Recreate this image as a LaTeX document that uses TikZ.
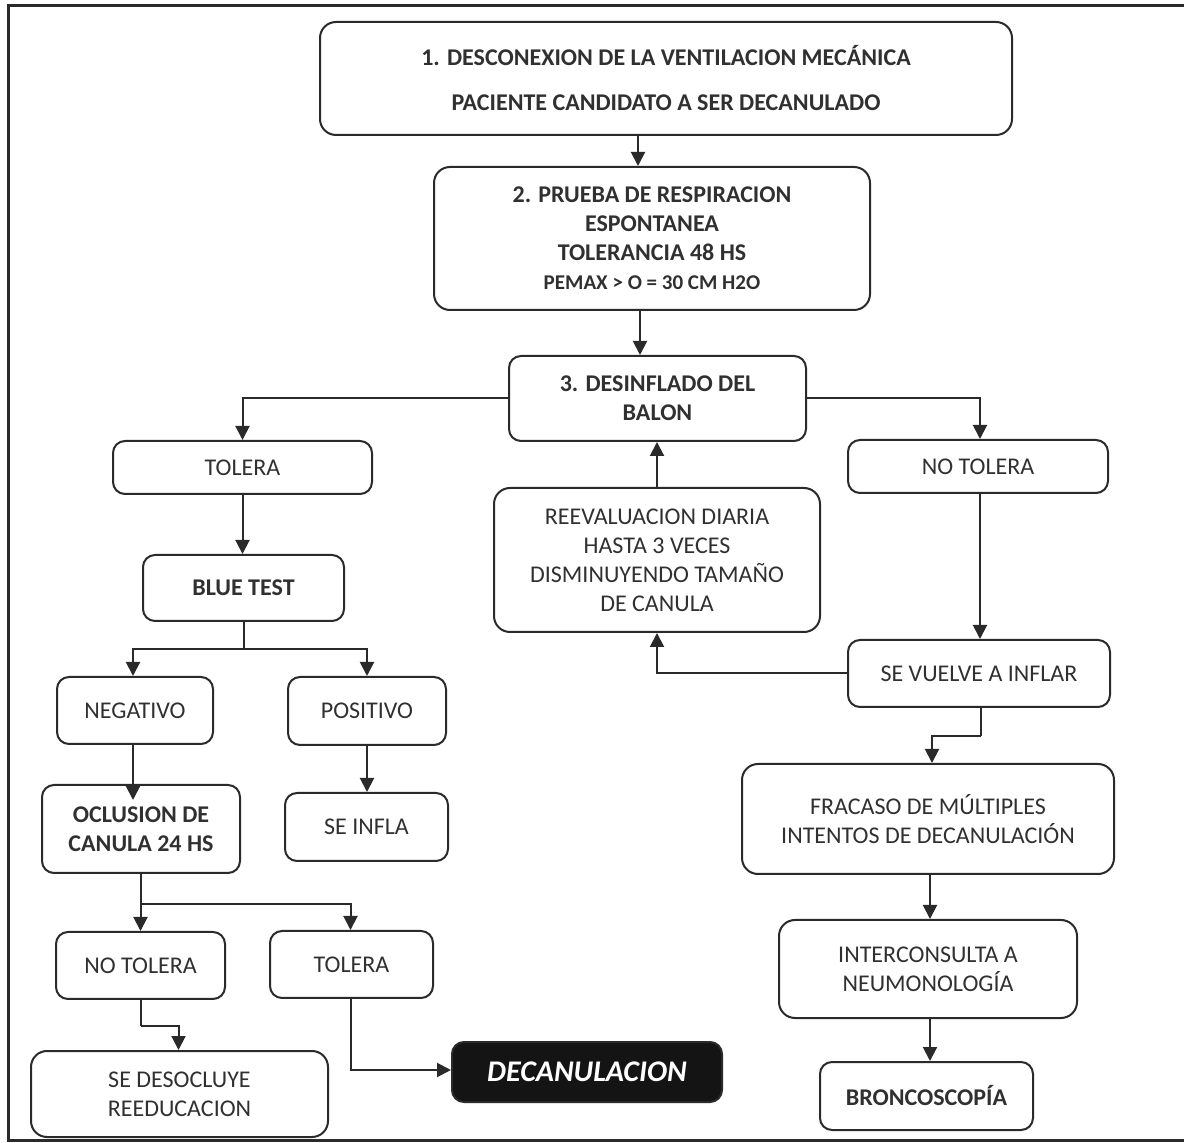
\documentclass[tikz,border=0pt]{standalone}
\usepackage{fontspec}
\setmainfont{Carlito}
\usetikzlibrary{arrows.meta}
\definecolor{trazo}{HTML}{2A2A2A}
\definecolor{texto}{HTML}{303030}
\begin{document}
\begin{tikzpicture}[x=0.5pt,y=-0.5pt,
  caja/.style={draw=trazo,line width=1pt,rounded corners=6pt,align=center,
    text=texto,inner sep=0pt,font=\fontsize{12}{14.5}\selectfont},
  cajab/.style={caja,font=\fontsize{12}{14.5}\selectfont\bfseries},
  flecha/.style={draw=trazo,line width=1pt,-{Triangle[length=7pt,width=7pt]}},
  union/.style={draw=trazo,line width=1pt}]
  \useasboundingbox (0,0) rectangle (1184,1143);
  \draw[trazo,line width=1.5pt] (1184,6) -- (8,6) -- (8,1140) -- (1184,1140);
  \node[cajab,minimum width=346pt,minimum height=56.5pt,rounded corners=8pt] (b1) at (666,78.5)
    {1. DESCONEXION DE LA VENTILACION MECÁNICA\\[8pt]PACIENTE CANDIDATO A SER DECANULADO};
  \node[cajab,minimum width=218pt,minimum height=71.5pt,rounded corners=8pt] (b2) at (652,238.5)
    {2. PRUEBA DE RESPIRACION\\ESPONTANEA\\TOLERANCIA 48 HS\\{\fontsize{10.5}{13}\selectfont PEMAX > O = 30 CM H2O}};
  \node[cajab,minimum width=148.5pt,minimum height=42.5pt] (b3) at (657.5,398.5) {3. DESINFLADO DEL\\BALON};
  \node[caja,minimum width=129.5pt,minimum height=26.5pt] (tol) at (242.5,467.5) {TOLERA};
  \node[caja,minimum width=130pt,minimum height=26.5pt] (notol) at (978,466.5) {NO TOLERA};
  \node[cajab,minimum width=100.5pt,minimum height=33pt] (blue) at (243.5,588) {BLUE TEST};
  \node[caja,minimum width=78pt,minimum height=33.5pt] (neg) at (135,710.5) {NEGATIVO};
  \node[caja,minimum width=79pt,minimum height=34pt] (pos) at (367,711) {POSITIVO};
  \node[caja,minimum width=163pt,minimum height=72pt,rounded corners=8pt] (reev) at (657,560)
    {REEVALUACION DIARIA\\HASTA 3 VECES\\DISMINUYENDO TAMAÑO\\DE CANULA};
  \node[caja,minimum width=131pt,minimum height=33.5pt] (vuelve) at (979,673.5) {SE VUELVE A INFLAR};
  \node[caja,minimum width=186pt,minimum height=55pt,rounded corners=8pt] (fracaso) at (928,819)
    {FRACASO DE MÚLTIPLES\\INTENTOS DE DECANULACIÓN};
  \node[caja,minimum width=149pt,minimum height=49pt,rounded corners=8pt] (inter) at (928,969)
    {INTERCONSULTA A\\NEUMONOLOGÍA};
  \node[cajab,minimum width=106.5pt,minimum height=34pt] (bronco) at (926.5,1096) {BRONCOSCOPÍA};
  \node[cajab,minimum width=99pt,minimum height=44pt] (oclu) at (141,829) {OCLUSION DE\\CANULA 24 HS};
  \node[caja,minimum width=81.5pt,minimum height=34pt] (infla) at (366.5,827) {SE INFLA};
  \node[caja,minimum width=84.5pt,minimum height=33.5pt] (notolb) at (140.5,965.5) {NO TOLERA};
  \node[caja,minimum width=81.5pt,minimum height=33.5pt] (tolb) at (351.5,964.5) {TOLERA};
  \node[caja,minimum width=148.5pt,minimum height=43pt,rounded corners=8pt] (deso) at (179.5,1094)
    {SE DESOCLUYE\\REEDUCACION};
  \node[caja,fill=black!92,text=white,minimum width=135pt,minimum height=30pt,
    font=\fontsize{15}{17}\selectfont\bfseries\itshape] (decan) at (587,1072) {DECANULACION};
  \draw[flecha] ([xshift=-7pt]b2.north |- b1.south) -- ([xshift=-7pt]b2.north);
  \draw[flecha] ([xshift=-6pt]b2.south) -- ([xshift=-6pt]b2.south |- b3.north);
  \draw[flecha] (b3.west) -| (tol.north);
  \draw[flecha] (b3.east) -| ([xshift=1pt]notol.north);
  \draw[flecha] (tol.south) -- (tol.south |- blue.north);
  \draw[union] (blue.south) -- ++(0,27) coordinate (rb);
  \draw[flecha] (rb) -| ([xshift=-1pt]neg.north);
  \draw[flecha] (rb) -| (pos.north);
  \draw[flecha] ([xshift=-1pt]neg.south) -- ([xshift=-1pt,yshift=-8pt]neg.south |- oclu.north);
  \draw[flecha] (pos.south) -- (pos.south |- infla.north);
  \draw[flecha] (reev.north) -- (reev.north |- b3.south);
  \draw[flecha] ([xshift=1pt]notol.south) -- ([xshift=1pt]notol.south |- vuelve.north);
  \draw[flecha] (vuelve.west) -| (reev.south);
  \draw[union] ([xshift=1pt]vuelve.south) -- ++(0,28) coordinate (rv);
  \draw[flecha] (rv) -| ([xshift=2pt]fracaso.north);
  \draw[flecha] ([xshift=1pt]fracaso.south) -- ([xshift=1pt]fracaso.south |- inter.north);
  \draw[flecha] ([xshift=1pt]inter.south) -- ([xshift=1pt]inter.south |- bronco.north);
  \draw[union] (oclu.south) -- ++(0,30) coordinate (ro);
  \draw[flecha] (ro) -| (notolb.north);
  \draw[flecha] (ro) -| ([xshift=-0.5pt]tolb.north);
  \draw[union] (notolb.south) -- ++(0,26) coordinate (rn);
  \draw[flecha] (rn) -| ([xshift=-0.5pt]deso.north);
  \draw[flecha] ([xshift=-0.5pt]tolb.south) |- ([yshift=1pt]decan.west);
\end{tikzpicture}
\end{document}
